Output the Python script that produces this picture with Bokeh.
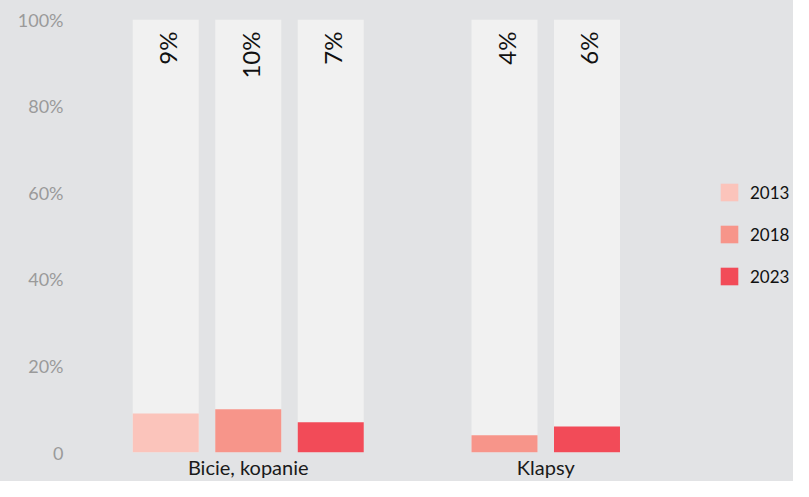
from bokeh.plotting import figure
from bokeh.models import ColumnDataSource, Range1d, FixedTicker, Legend, LegendItem
from bokeh.core.properties import value
from bokeh.embed import file_html
from bokeh.resources import INLINE
import math

categories = ["Bicie, kopanie", "Klapsy"]
years = ["2013", "2018", "2023"]
values_2013 = [9, None]
values_2018 = [10, 4]
values_2023 = [7, 6]
series_values = [values_2013, values_2018, values_2023]
colors = ["#fbc4bb", "#f7958a", "#f24b58"]
y_ticks = [0, 20, 40, 60, 80, 100]
y_tick_labels = ["0", "20%", "40%", "60%", "80%", "100%"]

BG = "#e2e3e5"
TRACK = "#f1f1f1"
step = 0.2773
bar_w = 0.2218
cat_px = 297.5          # pixel width of one category slot
frame_px = 694          # frame spans to the right edge (legend lives there)

p = figure(width=793, height=481, output_backend="svg", toolbar_location=None,
           x_range=Range1d(0, frame_px / cat_px), y_range=Range1d(0, 100),
           min_border_left=99, min_border_right=0, min_border_top=19, min_border_bottom=26)
p.styles = {"background-color": BG}
p.background_fill_alpha = 0
p.border_fill_alpha = 0
p.outline_line_color = None
p.xgrid.visible = False
p.ygrid.visible = False

# compute positions per category for non-null series
pos = {k: ([], []) for k in range(len(years))}
for i in range(len(categories)):
    present = [k for k in range(len(years)) if series_values[k][i] is not None]
    n = len(present)
    for j, k in enumerate(present):
        pos[k][0].append(i + 0.5 + (j - (n - 1) / 2) * step)
        pos[k][1].append(series_values[k][i])

all_x = [x for k in pos for x in pos[k][0]]
all_v = [v for k in pos for v in pos[k][1]]
track = ColumnDataSource(dict(x=all_x, top=[100] * len(all_x)))
p.vbar(x="x", top="top", bottom=0, width=bar_w, source=track, fill_color=TRACK, line_color=None)

items = []
for k, yr in enumerate(years):
    src = ColumnDataSource(dict(x=pos[k][0], top=pos[k][1]))
    r = p.vbar(x="x", top="top", bottom=0, width=bar_w, source=src, fill_color=colors[k], line_color=None)
    items.append(LegendItem(label=yr, renderers=[r]))

lab = ColumnDataSource(dict(x=all_x, y=[100] * len(all_x), t=[f"{v}%" for v in all_v]))
p.text(x="x", y="y", text="t", source=lab, angle=math.pi / 2, text_align="right",
       text_baseline="middle", y_offset=12, x_offset=2, text_font=value("Lato"),
       text_font_size="24px", text_color="#111111")

p.yaxis.ticker = FixedTicker(ticks=y_ticks)
p.yaxis.major_label_overrides = {t: l for t, l in zip(y_ticks, y_tick_labels)}
p.yaxis.axis_line_color = None
p.yaxis.major_tick_line_color = None
p.yaxis.minor_tick_line_color = None
p.yaxis.major_tick_out = 0
p.yaxis.major_tick_in = 0
p.yaxis.major_label_standoff = 36
p.yaxis.major_label_text_font = "Lato"
p.yaxis.major_label_text_font_size = "18px"
p.yaxis.major_label_text_color = "#9a9a9a"

p.xaxis.ticker = FixedTicker(ticks=[i + 0.5 for i in range(len(categories))])
p.xaxis.major_label_overrides = {i + 0.5: c for i, c in enumerate(categories)}
p.xaxis.axis_line_color = None
p.xaxis.major_tick_line_color = None
p.xaxis.minor_tick_line_color = None
p.xaxis.major_tick_out = 0
p.xaxis.major_tick_in = 0
p.xaxis.major_label_standoff = 2
p.xaxis.major_label_text_font = "Lato"
p.xaxis.major_label_text_font_size = "20px"
p.xaxis.major_label_text_color = "#1a1a1a"

legend = Legend(items=items, location=(619, 165), orientation="vertical",
                glyph_width=22, glyph_height=22, spacing=20, padding=0, margin=0,
                label_standoff=10, label_text_font="Lato", label_text_font_size="17px",
                label_text_color="#111111", border_line_color=None, background_fill_alpha=0)
p.add_layout(legend, "center")

open("out.html", "w").write(file_html(p, INLINE))
